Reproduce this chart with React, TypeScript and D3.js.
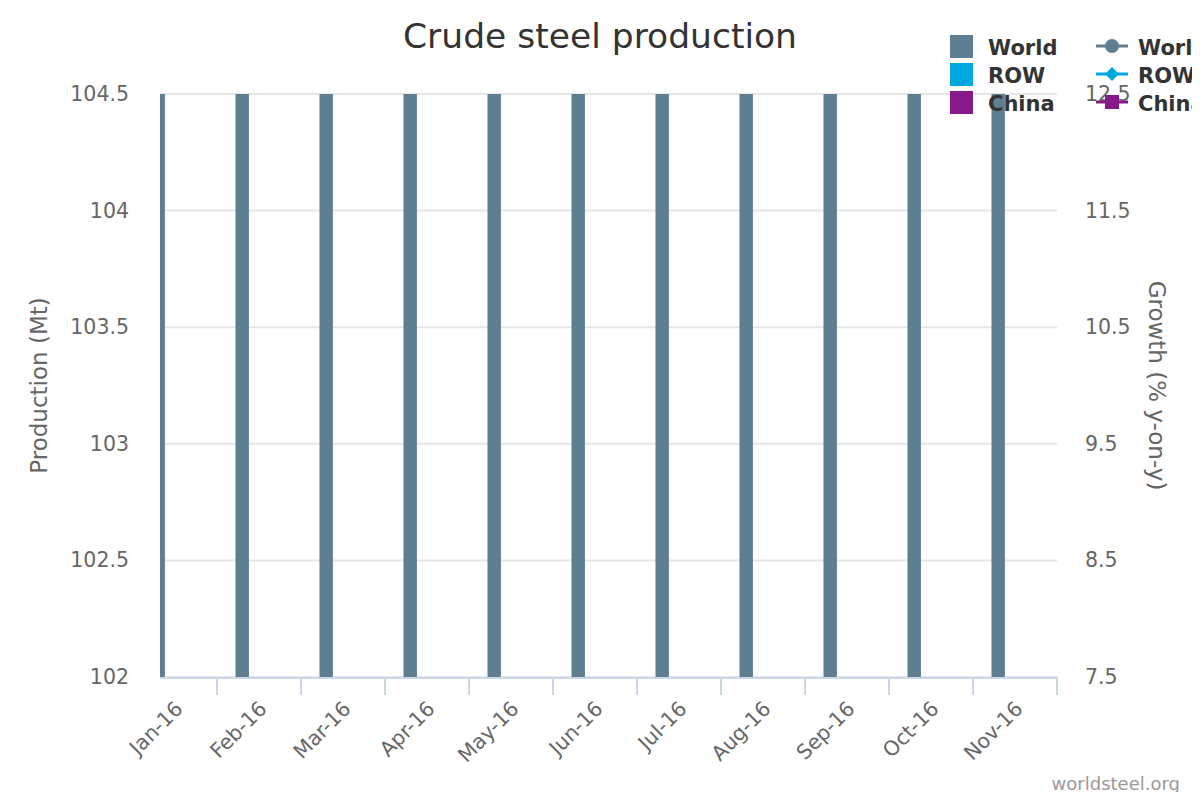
import * as d3 from 'd3'

// months shown on the category axis
const months = [
  'Jan-16', 'Feb-16', 'Mar-16', 'Apr-16', 'May-16', 'Jun-16',
  'Jul-16', 'Aug-16', 'Sep-16', 'Oct-16', 'Nov-16',
]

// production (Mt) – most bars run past the top of the axis, so these are estimates
const worldProd = [120.8, 113.0, 135.1, 134.6, 138.5, 134.8, 130.6, 131.6, 130.1, 133.8, 133.3]
const chinaProd = [62.3, 61.0, 70.7, 69.3, 70.0, 69.6, 67.2, 68.6, 67.1, 68.2, 68.2]
const rowProd = [58.5, 52.0, 64.4, 65.3, 68.5, 65.2, 63.4, 63.0, 63.0, 65.6, 65.1]

// growth (% y-on-y) – below the visible right-axis range
const worldGrowth = [-7.1, -3.5, -2.9, -3.4, -0.9, 1.0, 1.6, 1.2, 0.5, 3.2, 4.1]
const rowGrowth = [-6.2, -4.3, -3.9, -3.6, -1.8, -0.4, -0.3, -0.6, -1.7, 1.3, 2.8]
const chinaGrowth = [-8.0, -2.5, 2.9, 0.6, 1.8, 2.3, 3.6, 3.1, 2.7, 5.1, 5.3]

const leftTicks = [102, 102.5, 103, 103.5, 104, 104.5]
const rightTicks = [7.5, 8.5, 9.5, 10.5, 11.5, 12.5]

const colors = { World: '#5e7f91', ROW: '#00a8e1', China: '#87198a' }

const W = 1200
const H = 800
const plot = { left: 160, right: 1057, top: 94, bottom: 677 }
const bandW = 84
const font = '"DejaVu Sans", Verdana, sans-serif'

export default function App() {
  const firstStart = plot.right - bandW * months.length
  const x = d3
    .scaleBand()
    .domain(months)
    .range([firstStart, plot.right])
    .paddingInner(0)
    .paddingOuter(0)
  const groupPad = x.bandwidth() * 0.2
  const inner = d3
    .scaleBand()
    .domain(['World', 'ROW', 'China'])
    .range([groupPad, x.bandwidth() - groupPad])
    .paddingInner(0.2)
    .paddingOuter(0.1)
  const y = d3.scaleLinear().domain([102, 104.5]).range([plot.bottom, plot.top])
  const y2 = d3.scaleLinear().domain([7.5, 12.5]).range([plot.bottom, plot.top])

  const bars = [
    { key: 'World', values: worldProd },
    { key: 'ROW', values: rowProd },
    { key: 'China', values: chinaProd },
  ]
  const lines = [
    { key: 'World', values: worldGrowth },
    { key: 'ROW', values: rowGrowth },
    { key: 'China', values: chinaGrowth },
  ]
  const line = d3
    .line<number>()
    .x((_, i) => (x(months[i]) || 0) + x.bandwidth() / 2)
    .y((d) => y2(d))

  const boundaries = months
    .map((m) => (x(m) || 0) + x.bandwidth())
    .filter((v) => v > plot.left)

  return (
    <svg width={W} height={H} style={{ display: 'block', margin: -8 }} fontFamily={font}>
      <rect width={W} height={H} fill="#fff" />
      <defs>
        <clipPath id="plotClip">
          <rect
            x={plot.left}
            y={plot.top}
            width={plot.right - plot.left}
            height={plot.bottom - plot.top}
          />
        </clipPath>
      </defs>

      <text x={600} y={48} textAnchor="middle" fontSize={34.5} fill="#333">
        Crude steel production
      </text>

      {/* grid */}
      {leftTicks.map((t) => (
        <line
          key={`g-${t}`}
          x1={plot.left}
          x2={plot.right}
          y1={y(t)}
          y2={y(t)}
          stroke="#e6e6e6"
          strokeWidth={2}
        />
      ))}

      {/* bars */}
      <g clipPath="url(#plotClip)">
        {bars.map((s) =>
          s.values.map((v, i) => {
            const top = y(v)
            return (
              <rect
                key={`${s.key}-${i}`}
                x={(x(months[i]) || 0) + (inner(s.key) || 0)}
                y={top}
                width={inner.bandwidth()}
                height={Math.max(0, plot.bottom - top)}
                fill={colors[s.key as keyof typeof colors]}
              />
            )
          }),
        )}
        {lines.map((s) => (
          <path
            key={`l-${s.key}`}
            d={line(s.values) || ''}
            fill="none"
            stroke={colors[s.key as keyof typeof colors]}
            strokeWidth={3}
          />
        ))}
      </g>

      {/* x axis */}
      <line
        x1={plot.left}
        x2={plot.right}
        y1={plot.bottom + 1}
        y2={plot.bottom + 1}
        stroke="#ccd6eb"
        strokeWidth={2}
      />
      {boundaries.map((b) => (
        <line
          key={`t-${b}`}
          x1={b}
          x2={b}
          y1={plot.bottom}
          y2={plot.bottom + 18}
          stroke="#ccd6eb"
          strokeWidth={2}
        />
      ))}
      {months.map((m) => {
        const cx = (x(m) || 0) + x.bandwidth() / 2 + 9
        const cy = plot.bottom + 33
        return (
          <text
            key={m}
            x={cx}
            y={cy}
            textAnchor="end"
            fontSize={20.5}
            fill="#666"
            transform={`rotate(-45 ${cx} ${cy})`}
          >
            {m}
          </text>
        )
      })}

      {/* left axis */}
      {leftTicks.map((t) => (
        <text key={`lt-${t}`} x={129} y={y(t) + 7} textAnchor="end" fontSize={20.5} fill="#666">
          {t}
        </text>
      ))}
      <text
        transform={`translate(47 ${(plot.top + plot.bottom) / 2}) rotate(-90)`}
        textAnchor="middle"
        fontSize={23}
        fill="#666"
      >
        Production (Mt)
      </text>

      {/* right axis */}
      {rightTicks.map((t) => (
        <text key={`rt-${t}`} x={1085} y={y2(t) + 7} textAnchor="start" fontSize={20.5} fill="#666">
          {t}
        </text>
      ))}
      <text
        transform={`translate(1149 ${(plot.top + plot.bottom) / 2}) rotate(90)`}
        textAnchor="middle"
        fontSize={23}
        fill="#666"
      >
        Growth (% y-on-y)
      </text>

      {/* legend */}
      {bars.map((s, i) => (
        <g key={`lb-${s.key}`} transform={`translate(950 ${35 + i * 28})`}>
          <rect width={23} height={23} fill={colors[s.key as keyof typeof colors]} />
          <text x={38} y={20} fontSize={21} fontWeight="bold" fill="#333">
            {s.key}
          </text>
        </g>
      ))}
      {lines.map((s, i) => {
        const c = colors[s.key as keyof typeof colors]
        return (
          <g key={`ll-${s.key}`} transform={`translate(1096 ${46 + i * 28})`}>
            <line x1={0} x2={32} y1={0} y2={0} stroke={c} strokeWidth={3} />
            {i === 0 && <circle cx={16} cy={0} r={7} fill={c} />}
            {i === 1 && <path d="M16,-7 L23,0 L16,7 L9,0 Z" fill={c} />}
            {i === 2 && <rect x={9} y={-7} width={14} height={14} fill={c} />}
            <text x={42} y={9} fontSize={21} fontWeight="bold" fill="#333">
              {s.key}
            </text>
          </g>
        )
      })}

      <text x={1180} y={790} textAnchor="end" fontSize={18} fill="#999">
        worldsteel.org
      </text>
    </svg>
  )
}
